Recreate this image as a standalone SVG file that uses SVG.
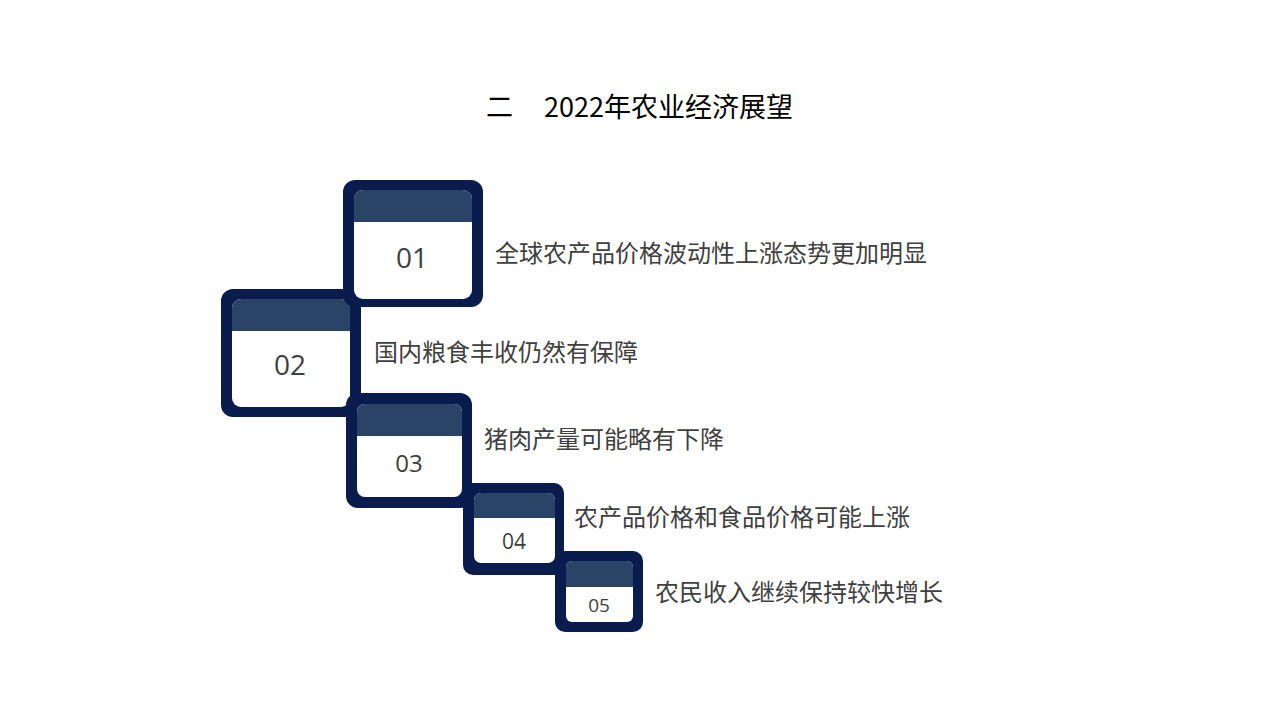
<svg xmlns="http://www.w3.org/2000/svg" width="1280" height="720" viewBox="0 0 1280 720">
<style>
.outer{fill:#0a1c4d}
.card{fill:#ffffff}
.head{fill:#2a4366}
.num{font-family:"Open Sans","Noto Sans",sans-serif;fill:#404040;text-anchor:middle}
.lbl{font-family:"Noto Sans CJK SC",sans-serif;font-size:24px;fill:#404040}
.title{font-family:"Noto Sans CJK SC",sans-serif;font-size:27px;fill:#000000}
</style>
<rect width="1280" height="720" fill="#ffffff"/>
<g id="title"><text class="title" x="486" y="117">二</text><text class="title" x="544" y="117">2022年农业经济展望</text></g>
<g id="node2">
<rect class="outer" x="221" y="289" width="140" height="128" rx="12"/>
<rect class="card" x="232" y="299" width="118" height="108" rx="9"/>
<path class="head" d="M232 331 V308 a9 9 0 0 1 9 -9 H341 a9 9 0 0 1 9 9 V331 Z"/>
<text class="num" x="290" y="375" font-size="28">02</text>
<text class="lbl" x="374" y="361">国内粮食丰收仍然有保障</text>
</g>
<g id="node1">
<rect class="outer" x="343" y="180" width="140" height="127" rx="12"/>
<rect class="card" x="354" y="190" width="118" height="109" rx="9"/>
<path class="head" d="M354 222 V199 a9 9 0 0 1 9 -9 H463 a9 9 0 0 1 9 9 V222 Z"/>
<text class="num" x="412" y="268" font-size="28">01</text>
<text class="lbl" x="495" y="262">全球农产品价格波动性上涨态势更加明显</text>
</g>
<g id="node3">
<rect class="outer" x="346" y="393" width="126" height="115" rx="12"/>
<rect class="card" x="357" y="404" width="105" height="93" rx="8"/>
<path class="head" d="M357 436 V412 a8 8 0 0 1 8 -8 H454 a8 8 0 0 1 8 8 V436 Z"/>
<text class="num" x="409" y="472" font-size="24">03</text>
<text class="lbl" x="484" y="448">猪肉产量可能略有下降</text>
</g>
<g id="node4">
<rect class="outer" x="463" y="483" width="101" height="92" rx="10"/>
<rect class="card" x="474" y="493" width="81" height="70" rx="7"/>
<path class="head" d="M474 518 V500 a7 7 0 0 1 7 -7 H548 a7 7 0 0 1 7 7 V518 Z"/>
<text class="num" x="514" y="549" font-size="21">04</text>
<text class="lbl" x="574" y="526">农产品价格和食品价格可能上涨</text>
</g>
<g id="node5">
<rect class="outer" x="555" y="551" width="88" height="81" rx="10"/>
<rect class="card" x="566" y="561" width="67" height="61" rx="6"/>
<path class="head" d="M566 587 V567 a6 6 0 0 1 6 -6 H627 a6 6 0 0 1 6 6 V587 Z"/>
<text class="num" x="599" y="612" font-size="19">05</text>
<text class="lbl" x="655" y="601">农民收入继续保持较快增长</text>
</g>
<g id="connectors"></g>
</svg>
